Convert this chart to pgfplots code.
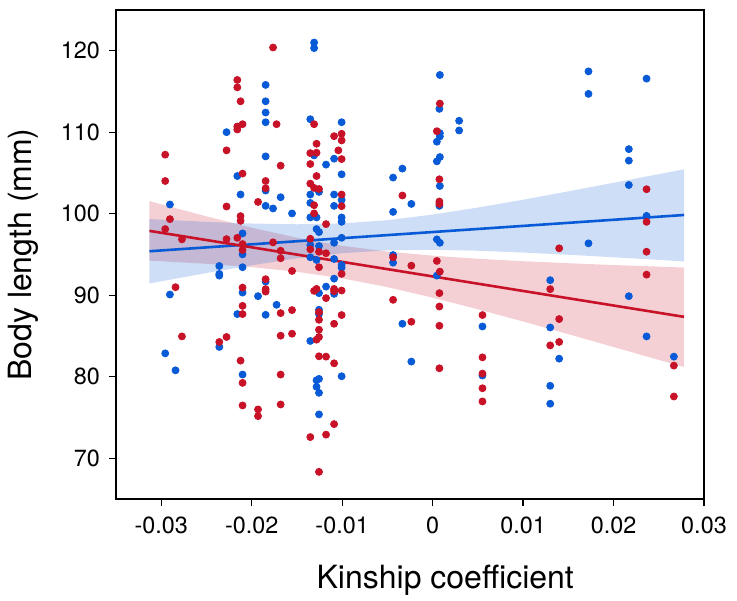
\documentclass[border=0pt]{standalone}
\usepackage{fontspec}
\setmainfont{TeX Gyre Heros}
\usepackage{pgfplots}
\usepackage{pgfplotstable}
\pgfplotsset{compat=1.18}
\definecolor{cblue}{RGB}{8,90,214}
\definecolor{cred}{RGB}{200,18,40}

\pgfplotstableread{
x y
-0.01846 115.81
-0.01846 113.80
-0.01846 112.42
-0.01846 111.23
-0.02278 110.01
-0.01846 107.04
-0.02159 104.63
-0.02123 102.36
-0.01680 102.03
-0.01846 102.85
-0.01846 100.97
-0.01764 100.65
-0.01554 100.04
-0.02904 101.14
-0.02101 97.59
-0.02101 95.02
-0.02358 93.59
-0.02101 93.44
-0.02358 92.62
-0.02358 92.41
-0.01846 91.67
-0.02101 90.33
-0.02904 90.09
-0.01930 89.89
-0.01725 88.83
-0.02159 87.69
-0.01846 87.60
-0.02358 83.66
-0.02956 82.87
-0.02842 80.79
-0.02101 80.27
-0.01310 121.01
-0.01310 120.33
0.00080 117.03
0.00075 112.87
-0.01352 111.60
-0.01006 111.23
0.00293 111.41
0.00293 110.22
0.00080 109.89
0.00080 109.49
0.00047 108.84
-0.01310 107.16
-0.01089 106.76
-0.01178 106.03
0.00080 106.96
0.00047 106.43
-0.01006 104.84
-0.00437 104.44
-0.00334 105.54
0.00080 103.41
-0.01256 102.68
-0.01352 102.36
-0.01089 102.36
-0.01006 101.70
-0.01089 100.97
-0.01352 101.33
-0.00235 101.21
0.00075 100.97
-0.01352 99.55
-0.01283 99.55
-0.01006 99.55
-0.01006 99.01
-0.00437 100.23
-0.01283 98.12
-0.01256 97.75
-0.01006 97.05
-0.01352 96.16
-0.01256 96.04
-0.01089 96.44
0.00047 96.86
0.00080 96.44
-0.01352 94.66
-0.01283 94.33
-0.01089 94.45
-0.01006 93.72
-0.01006 93.39
-0.00437 94.94
-0.00437 94.00
0.00047 92.41
-0.01089 92.04
-0.01178 91.06
-0.01256 90.26
-0.01089 90.17
-0.01256 88.22
-0.01256 87.69
-0.00334 86.50
0.00551 86.17
-0.01352 84.39
-0.00235 81.86
0.00551 80.15
-0.01006 80.06
-0.01256 79.74
-0.01283 79.57
-0.01283 78.77
-0.01256 78.03
-0.01256 75.38
0.01723 117.47
0.01723 114.71
0.02365 116.58
0.02169 107.93
0.02169 106.52
0.02169 103.53
0.02365 99.74
0.01723 96.37
0.01300 91.85
0.02169 89.89
0.01300 86.05
0.02365 84.95
0.02667 82.47
0.01399 82.22
0.01300 78.89
0.01300 76.69
}\bluepts

\pgfplotstableread{
x y
-0.01764 120.40
-0.02159 116.42
-0.02159 115.51
-0.02123 113.80
-0.01725 110.99
-0.02159 110.71
-0.02159 110.34
-0.02101 110.99
-0.02956 107.25
-0.02278 107.78
-0.01680 105.90
-0.02956 104.02
-0.02101 104.93
-0.01846 104.02
-0.01846 103.13
-0.01930 101.45
-0.02278 100.89
-0.02123 99.71
-0.02123 99.13
-0.02904 99.34
-0.02956 98.12
-0.02771 96.86
-0.02278 96.89
-0.02159 97.05
-0.02101 96.28
-0.02101 95.55
-0.01764 96.49
-0.01680 95.46
-0.01680 94.54
-0.01554 92.98
-0.01846 91.97
-0.01846 90.75
-0.01846 90.45
-0.02842 90.99
-0.02101 90.94
-0.02101 88.70
-0.01680 87.81
-0.01554 88.18
-0.02101 87.69
-0.02771 84.95
-0.02358 84.27
-0.02278 84.88
-0.01680 85.04
-0.01554 85.28
-0.02123 81.98
-0.02101 79.25
-0.01680 80.27
-0.02101 76.48
-0.01930 75.99
-0.01930 75.17
-0.01680 76.60
-0.01310 110.99
0.00080 113.52
0.00047 110.13
-0.01089 109.52
-0.01006 109.82
-0.01006 109.00
-0.01283 108.59
-0.01352 107.44
-0.01283 107.49
-0.01042 107.78
-0.01006 106.71
-0.01352 106.10
-0.01283 104.63
-0.01352 103.70
0.00075 104.23
-0.01310 103.17
-0.01256 103.04
-0.01006 102.36
-0.00334 102.24
-0.01006 100.93
-0.01310 101.05
0.00075 101.50
0.00075 101.21
-0.01310 100.04
-0.01178 98.73
-0.01352 96.93
-0.01352 95.64
-0.01256 95.34
-0.01178 95.15
-0.01256 93.44
-0.01006 92.62
-0.00437 94.66
-0.00235 93.63
0.00047 94.21
0.00080 92.90
-0.01310 90.54
-0.01283 90.78
-0.01178 89.65
-0.01089 90.78
-0.01089 90.50
-0.01006 90.58
0.00075 90.26
0.00075 88.62
-0.00437 89.44
-0.01256 87.93
-0.01256 86.99
-0.01006 87.57
-0.01089 86.50
-0.00235 86.75
0.00075 86.26
0.00551 87.57
-0.01256 85.77
-0.01256 84.88
-0.01283 84.55
-0.01256 82.51
-0.01178 82.47
-0.01089 81.65
0.00551 82.38
0.00075 81.04
0.00551 80.39
0.00551 78.59
0.00551 76.97
-0.01089 74.19
-0.01178 72.90
-0.01352 72.60
-0.01256 68.33
0.02365 103.01
0.02365 99.01
0.01399 95.76
0.02365 95.34
0.02365 92.53
0.01300 90.75
0.01399 87.08
0.01300 83.85
0.01399 84.27
0.02667 81.37
0.02667 77.58
}\redpts

\begin{document}
\begin{tikzpicture}
\useasboundingbox (-58pt,-50.5pt) rectangle (310.5pt,249.5pt);
\begin{axis}[
  at={(0,0)}, anchor=south west,
  scale only axis,
  width=294pt, height=244.5pt,
  xmin=-0.035, xmax=0.03,
  ymin=65, ymax=125,
  xtick={-0.03,-0.02,-0.01,0,0.01,0.02,0.03},
  xticklabels={-0.03,-0.02,-0.01,0,0.01,0.02,0.03},
  scaled x ticks=false,
  ytick={70,80,90,100,110,120},
  /pgf/number format/assume math mode=true,
  tick align=outside,
  tick pos=left,
  major tick length=3.5pt,
  every tick/.style={black, line width=0.6pt},
  axis line style={black, line width=0.7pt},
  tick label style={font=\fontsize{11.7}{14}\selectfont},
  xticklabel style={yshift=-2pt},
  yticklabel style={xshift=-1pt},
  xlabel={Kinship coefficient},
  ylabel={Body length (mm)},
  label style={font=\fontsize{16}{19}\selectfont},
  xlabel style={at={(axis description cs:0.56,-0.166)}, anchor=center},
  ylabel style={at={(axis description cs:-0.158,0.5)}, anchor=center},
]
% confidence bands
\addplot[draw=none, fill=cred, fill opacity=0.2] coordinates {
(-0.0313,101.55) (-0.025,99.68) (-0.02,98.29) (-0.015,97.06) (-0.01,96.07) (-0.005,95.36) (0,94.86) (0.005,94.48) (0.01,94.18) (0.015,93.93) (0.02,93.71) (0.025,93.51) (0.0278,93.40)
(0.0278,81.20) (0.025,82.07) (0.02,83.65) (0.015,85.23) (0.01,86.78) (0.005,88.28) (0,89.70) (-0.005,91.00) (-0.01,92.07) (-0.015,92.88) (-0.02,93.45) (-0.025,93.86) (-0.0313,94.25)
} -- cycle;
\addplot[draw=none, fill=cblue, fill opacity=0.2] coordinates {
(-0.0313,99.35) (-0.025,99.01) (-0.02,98.80) (-0.015,98.71) (-0.01,98.82) (-0.005,99.21) (0,99.90) (0.005,100.76) (0.01,101.72) (0.015,102.75) (0.02,103.80) (0.025,104.86) (0.0278,105.45)
(0.0278,94.15) (0.025,94.34) (0.02,94.66) (0.015,94.97) (0.01,95.24) (0.005,95.46) (0,95.58) (-0.005,95.51) (-0.01,95.16) (-0.015,94.53) (-0.02,93.68) (-0.025,92.73) (-0.0313,91.45)
} -- cycle;
% points
\addplot[only marks, mark=*, mark size=1.75pt, color=cblue, mark options={draw=cblue, fill=cblue}] table[x=x,y=y] {\bluepts};
\addplot[only marks, mark=*, mark size=1.75pt, color=cred, mark options={draw=cred, fill=cred}] table[x=x,y=y] {\redpts};
% regression lines
\addplot[cblue, line width=1.3pt] coordinates {(-0.0313,95.40) (0.0278,99.85)};
\addplot[cred, line width=1.3pt] coordinates {(-0.0313,97.90) (0.0278,87.35)};
\end{axis}
\end{tikzpicture}
\end{document}
